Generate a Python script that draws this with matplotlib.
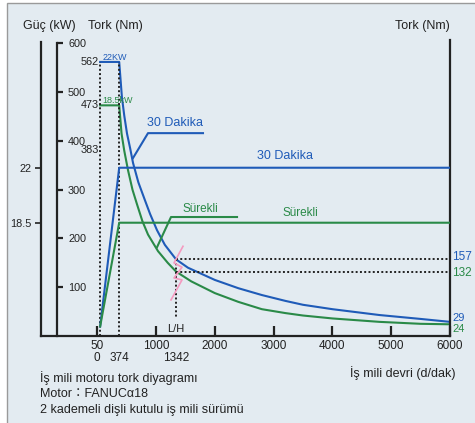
import matplotlib
matplotlib.use("Agg")
import matplotlib.pyplot as plt
from matplotlib.patches import Rectangle

plt.rcParams['font.family'] = ['Liberation Sans', 'DejaVu Sans']

# Eksen değerleri
rpm_ticks = [0, 1000, 2000, 3000, 4000, 5000, 6000]
rpm_tick_labels = ["50", "1000", "2000", "3000", "4000", "5000", "6000"]
rpm_marks = [0, 374, 1342]
rpm_mark_labels = ["0", "374", "1342"]
torque_ticks = [100, 200, 300, 400, 500, 600]
power_ticks = [18.5, 22]
power_tick_labels = ["18.5", "22"]

# Tork eğrileri
rpm_30 = [50, 374, 420, 460, 507, 560, 609, 700, 813, 900, 1017, 1150, 1342, 1544, 1800,
          2000, 2400, 2800, 3200, 3500, 4000, 4800, 5500, 6000]
torque_30 = [562, 562, 490, 452, 415, 385, 355, 315, 278, 250, 217, 187, 157, 140, 126,
             115, 98, 84, 72, 64, 55, 43, 35, 29]
rpm_cont = [50, 374, 414, 460, 524, 600, 677, 770, 864, 1034, 1200, 1342, 1600,
            2000, 2400, 2800, 3200, 3500, 4000, 4800, 5500, 6000]
torque_cont = [473, 473, 415, 380, 340, 300, 270, 235, 208, 174, 150, 132, 112,
               88, 70, 55, 47, 42, 36, 29, 25, 24]

# Güç eğrileri
rpm_power = [50, 374, 6000]
power_30 = [11.9, 22, 22]
power_cont = [11.9, 18.5, 18.5]

# Vites değişim noktası
lh_rpm = 1342
lh_torque_30 = 157
lh_torque_cont = 132

# şimşek işareti
bolt_rpm = [1459, 1306, 1442, 1306, 1442, 1255]
bolt_torque = [184, 150, 141, 119, 115, 74]

blue = '#1f5bb8'
green = '#2a8a48'
dark = '#222222'
bg = '#e3ebf1'
W, H = 475, 423

fig = plt.figure(figsize=(W / 100, H / 100), dpi=100, facecolor='white')
fig.patches.append(Rectangle((7 / W, -0.02), 1.1, 1.02 - 3 / H, transform=fig.transFigure,
                             facecolor=bg, edgecolor='#9a9a9a', lw=1, zorder=-5))

ax = fig.add_axes([41 / W, 1 - 336 / H, 409 / W, 296 / H])
ax.patch.set_visible(False)
ax.set_xlim(-956, 6000)
ax.set_ylim(0, 607)

ax.spines['top'].set_visible(False)
for s in ['left', 'bottom', 'right']:
    ax.spines[s].set_linewidth(1.6)
    ax.spines[s].set_color(dark)
ax.spines['left'].set_position(('data', -684))
ax.spines['left'].set_bounds(0, 600)

ax.set_yticks(torque_ticks)
ax.tick_params(axis='y', direction='in', length=4, width=1.6, color=dark,
               labelsize=7.8, pad=-21, labelcolor=dark)
ax.set_xticks(rpm_ticks)
ax.set_xticklabels(rpm_tick_labels)
ax.set_xticks(rpm_marks, minor=True)
ax.set_xticklabels(rpm_mark_labels, minor=True)
ax.xaxis.remove_overlapping_locs = False
ax.tick_params(axis='x', which='major', direction='in', length=7, width=1.6, color=dark,
               labelsize=8.5, pad=3, labelcolor=dark)
ax.tick_params(axis='x', which='minor', length=0, labelsize=8.5, pad=11.5, labelcolor=dark)

# Tork eğrileri
ax.plot(rpm_30, torque_30, color=blue, lw=1.5, solid_joinstyle='round')
ax.plot(rpm_cont, torque_cont, color=green, lw=1.5, solid_joinstyle='round')

# noktalı çizgiler
dots = dict(color=dark, lw=1.4, linestyle=(0, (1, 1.2)))
ax.plot([rpm_power[0], rpm_power[0]], [0, torque_30[0]], **dots)
ax.plot([rpm_power[1], rpm_power[1]], [0, torque_30[1]], **dots)
ax.plot([lh_rpm, 6000], [lh_torque_30, lh_torque_30], **dots)
ax.plot([lh_rpm, 6000], [lh_torque_cont, lh_torque_cont], **dots)
ax.plot([lh_rpm, lh_rpm], [lh_torque_30, 37], **dots)
ax.plot(bolt_rpm, bolt_torque, color='#f59ac0', lw=1.2)

ax.text(lh_rpm, 14, "L/H", ha='center', va='center', fontsize=8, color=dark)

# etiketler
ax.text(25, 562, "562", ha='right', va='center', fontsize=7.8, color=dark)
ax.text(25, 473, "473", ha='right', va='center', fontsize=7.8, color=dark)
ax.text(25, 381, "383", ha='right', va='center', fontsize=7.8, color=dark)
ax.text(95, 571, "22KW", ha='left', va='center', fontsize=6.5, color=blue)
ax.text(95, 482, "18.5kW", ha='left', va='center', fontsize=6.5, color=green)

ax.plot([609, 864, 1799], [365, 416, 416], color=blue, lw=1.5)
ax.text(847, 436, "30 Dakika", ha='left', va='center', fontsize=9, color=blue)
ax.plot([1017, 1255, 2378], [182, 244, 244], color=green, lw=1.5)
ax.text(1459, 260, "Sürekli", ha='left', va='center', fontsize=8.5, color=green)

ax.text(6040, lh_torque_30 + 5, str(lh_torque_30), ha='left', va='center', fontsize=8.5, color=blue)
ax.text(6040, lh_torque_cont - 3, str(lh_torque_cont), ha='left', va='center', fontsize=8.5, color=green)
ax.text(6040, torque_30[-1] + 7, str(torque_30[-1]), ha='left', va='center', fontsize=8, color=blue)
ax.text(6040, torque_cont[-1] - 10, str(torque_cont[-1]), ha='left', va='center', fontsize=8, color=green)

# Güç ekseni
ax2 = ax.twinx()
ax2.set_ylim(11.29, 30.13)
ax2.yaxis.tick_left()
for s in ['top', 'right', 'bottom']:
    ax2.spines[s].set_visible(False)
ax2.spines['left'].set_visible(True)
ax2.spines['left'].set_linewidth(1.6)
ax2.spines['left'].set_color(dark)
ax2.spines['left'].set_bounds(11.29, 30.0)
ax2.set_yticks(power_ticks)
ax2.set_yticklabels(power_tick_labels)
ax2.tick_params(axis='y', direction='out', length=4.5, width=1.2, color=dark,
                labelsize=7.8, pad=2, labelcolor=dark)

ax2.plot(rpm_power, power_30, color=blue, lw=1.5)
ax2.plot(rpm_power, power_cont, color=green, lw=1.5)
ax2.text(3190, 22.35, "30 Dakika", ha='center', va='bottom', fontsize=9, color=blue)
ax2.text(3449, 18.75, "Sürekli", ha='center', va='bottom', fontsize=8.5, color=green)

# başlıklar ve açıklamalar
fig.text(49 / W, 1 - 26 / H, "Güç (kW)", ha='center', va='center', fontsize=9, color=dark)
fig.text(115 / W, 1 - 26 / H, "Tork (Nm)", ha='center', va='center', fontsize=9, color=dark)
fig.text(450 / W, 1 - 26 / H, "Tork (Nm)", ha='right', va='center', fontsize=9, color=dark)
fig.text(455 / W, 1 - 373 / H, "İş mili devri (d/dak)", ha='right', va='center', fontsize=9, color=dark)
fig.text(40 / W, 1 - 378 / H, "İş mili motoru tork diyagramı", ha='left', va='center', fontsize=9, color=dark)
fig.text(40 / W, 1 - 394 / H, "Motor：FANUCα18", ha='left', va='center', fontsize=9, color=dark,
         family=['Liberation Sans', 'Noto Sans CJK JP', 'DejaVu Sans'])
fig.text(40 / W, 1 - 410 / H, "2 kademeli dişli kutulu iş mili sürümü", ha='left', va='center', fontsize=9, color=dark)

fig.savefig("out.png", dpi=100, facecolor='white')
